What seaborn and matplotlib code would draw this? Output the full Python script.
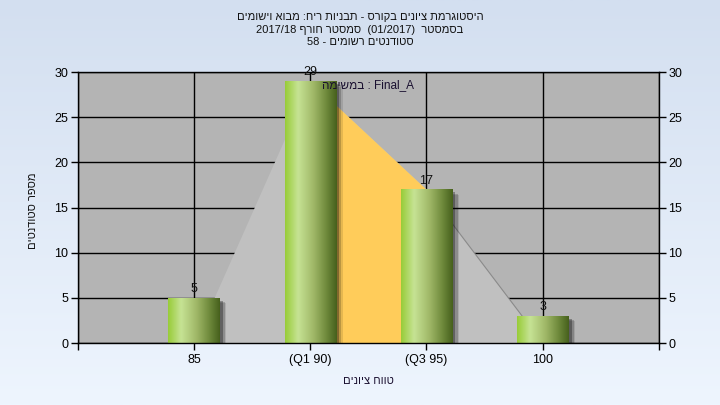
import re
import numpy as np
import pandas as pd
import seaborn as sns
import matplotlib
matplotlib.use("Agg")
import matplotlib.pyplot as plt
import matplotlib.patheffects as pe
from matplotlib.colors import LinearSegmentedColormap

# ---- data ----
grades = ["85", "(Q1 90)", "(Q3 95)", "100"]
students = [5, 29, 17, 3]
envelope = [0, 29, 17, 0]      # outline polygon drawn behind the bars
q_first, q_last = 1, 2         # Q1 .. Q3 span (orange part)

title_lines = [
    "היסטוגרמת ציונים בקורס - תבניות ריח: מבוא וישומים",
    "בסמסטר  (01/2017)  סמסטר חורף 2017/18",
    "סטודנטים רשומים - 58",
]
series_name = "Final_A"
series_word = "במשימה"
x_title = "טווח ציונים"
y_title = "מספר סטודנטים"

plt.rcParams["font.family"] = ["Liberation Sans", "DejaVu Sans"]


def rtl(s):
    # matplotlib has no bidi support: put a right-to-left line in visual order
    parts = re.split(r"([A-Za-z0-9_/.]+)", s)
    out = []
    for p in reversed(parts):
        if re.fullmatch(r"[A-Za-z0-9_/.]+", p):
            out.append(p)
        else:
            out.append(p[::-1].translate(str.maketrans("()", ")(")))
    return "".join(out)


fig = plt.figure(figsize=(7.2, 4.05), dpi=100)

# light blue gradient background
bg = fig.add_axes([0, 0, 1, 1], zorder=-5)
bg.imshow(np.linspace(0, 1, 256).reshape(-1, 1), aspect="auto", extent=[0, 1, 0, 1],
          cmap=LinearSegmentedColormap.from_list("bg", ["#d3dff0", "#eef5fe"]))
bg.set_axis_off()

ax = fig.add_axes([0.108, 0.153, 0.807, 0.669])
ax.set_facecolor("#b4b4b4")

xs = np.arange(len(grades))
ax.fill_between(xs, envelope, color="#c0c0c0", lw=0, zorder=1)
ax.fill_between(xs[q_first:q_last + 1], envelope[q_first:q_last + 1],
                color="#ffcc5a", lw=0, zorder=1.1)
ax.plot(xs[q_last:], envelope[q_last:], color="#8a8a8a", lw=0.8, zorder=1.2)

df = pd.DataFrame({"grade": grades, "students": students})
sns.barplot(data=df, x="grade", y="students", order=grades, width=0.44,
            color="#8fb048", linewidth=0, edgecolor="none", ax=ax, zorder=2)

green = LinearSegmentedColormap.from_list(
    "grn", [(0, "#98cc38"), (0.25, "#c6e394"), (0.55, "#a0b868"),
            (0.8, "#6f8a3c"), (1, "#46601c")])
grad = np.linspace(0, 1, 128).reshape(1, -1)
for bar in ax.containers[0]:
    bar.set_linewidth(0)
    bar.set_path_effects([
        pe.SimplePatchShadow(offset=(5, -4), shadow_rgbFace="k", alpha=0.10),
        pe.SimplePatchShadow(offset=(4, -3), shadow_rgbFace="k", alpha=0.18),
        pe.SimplePatchShadow(offset=(2.5, -2), shadow_rgbFace="k", alpha=0.30),
        pe.Normal()])
    x0, y0 = bar.get_x(), bar.get_y()
    im = ax.imshow(grad, cmap=green, aspect="auto", zorder=2.1,
                   extent=[x0, x0 + bar.get_width(), y0, y0 + bar.get_height()])
    im.set_clip_path(bar)

ax.bar_label(ax.containers[0], padding=2, fontsize=9, color="#111111", zorder=3)

ax.set_xlim(-1, len(grades))
ax.set_ylim(0, 30)
ax.set_xticks(np.arange(-1, len(grades) + 1))
ax.set_xticklabels([""] + grades + [""])
ax.set_yticks(range(0, 31, 5))
ax.set_xlabel("")
ax.set_ylabel("")
ax.set_axisbelow(True)
ax.grid(True, color="black", lw=1)
ax.tick_params(length=5, width=1, color="black", labelsize=9, pad=2)
ax.tick_params(axis="x", pad=3)
for sp in ax.spines.values():
    sp.set_color("black")
    sp.set_linewidth(1)

ax2 = ax.twinx()
ax2.set_ylim(0, 30)
ax2.set_yticks(range(0, 31, 5))
ax2.tick_params(length=5, width=1, color="black", labelsize=9, pad=2)
for sp in ax2.spines.values():
    sp.set_visible(False)

ax.text(0.5, 0.952, rtl(series_word) + " : " + series_name, transform=ax.transAxes,
        ha="center", va="center", fontsize=8.5, color="#1a1030", zorder=4)

for i, line in enumerate(title_lines):
    fig.text(0.5, 0.958 - i * 0.031, rtl(line), ha="center", va="center",
             fontsize=8, color="#111111")

fig.text(368 / 720, 1 - 381 / 405, rtl(x_title), ha="center", va="center",
         fontsize=8, color="#1a1030")
fig.text(33 / 720, 1 - 211 / 405, rtl(y_title), ha="center", va="center",
         rotation=90, fontsize=8, color="#111111")

fig.savefig("out.png", dpi=100)
